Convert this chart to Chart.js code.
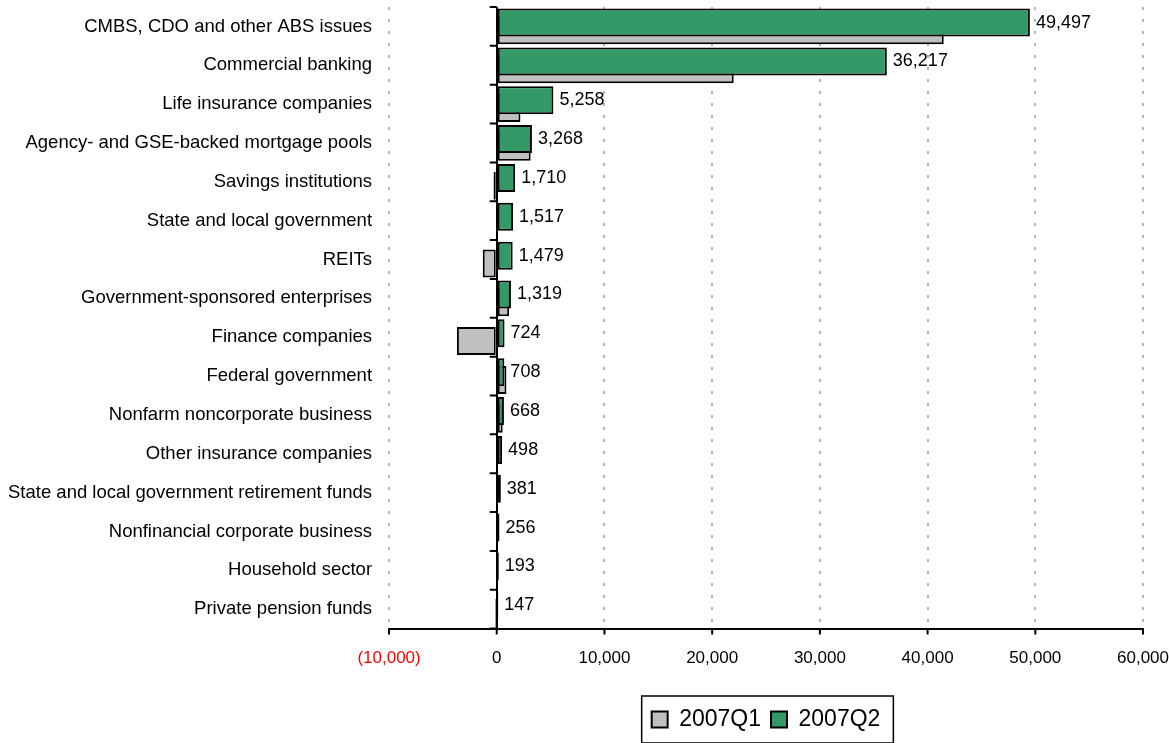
<!DOCTYPE html>
<html>
<head>
<meta charset="utf-8">
<script src="https://cdn.jsdelivr.net/npm/chart.js@4"></script>
<style>
  html, body { margin: 0; padding: 0; background: #fff; }
  #wrap { width: 1169px; height: 743px; position: relative; }
</style>
</head>
<body>
<div id="wrap"><canvas id="sectorChart"></canvas></div>
<script>
const categories = [
  "CMBS, CDO and other ABS issues",
  "Commercial banking",
  "Life insurance companies",
  "Agency- and GSE-backed mortgage pools",
  "Savings institutions",
  "State and local government",
  "REITs",
  "Government-sponsored enterprises",
  "Finance companies",
  "Federal government",
  "Nonfarm noncorporate business",
  "Other insurance companies",
  "State and local government retirement funds",
  "Nonfinancial corporate business",
  "Household sector",
  "Private pension funds",
];
const q1Values = [41500, 22000, 2200, 3150, -300, 0, -1300, 1150, -3700, 900, 550, 0, 0, 0, 0, -150];
const q2Values = [49497, 36217, 5258, 3268, 1710, 1517, 1479, 1319, 724, 708, 668, 498, 381, 256, 193, 147];
const xTicks = [-10000, 0, 10000, 20000, 30000, 40000, 50000, 60000];

const FONT = "Arial, 'Liberation Sans', sans-serif";

function fmt(v) {
  const s = Math.abs(v).toLocaleString("en-US");
  return v < 0 ? "(" + s + ")" : s;
}

// axis tick marks, value labels on the Q2 bars and the legend frame
const extras = {
  id: "extras",
  afterDatasetsDraw(chart) {
    const { ctx, scales: { x, y } } = chart;
    const x0 = x.getPixelForValue(0);
    ctx.save();
    ctx.strokeStyle = "#000";
    ctx.lineWidth = 2;
    ctx.beginPath();
    // short ticks on the zero line between categories
    for (let i = 0; i <= categories.length; i++) {
      const py = y.getPixelForValue(i - 0.5);
      ctx.moveTo(x0 - 7, py);
      ctx.lineTo(x0, py);
    }
    // ticks below the value axis
    xTicks.forEach((v) => {
      const px = x.getPixelForValue(v);
      ctx.moveTo(px, x.top);
      ctx.lineTo(px, x.top + 6);
    });
    ctx.stroke();

    const meta = chart.getDatasetMeta(0);
    ctx.fillStyle = "#000";
    ctx.font = "18px " + FONT;
    ctx.textAlign = "left";
    ctx.textBaseline = "middle";
    meta.data.forEach((bar, i) => {
      ctx.fillText(fmt(q2Values[i]), bar.x + 6, bar.y);
    });
    ctx.restore();
  },
  afterDraw(chart) {
    const boxes = chart.legend.legendHitBoxes;
    if (!boxes || !boxes.length) return;
    const first = boxes[0];
    const last = boxes[boxes.length - 1];
    const ctx = chart.ctx;
    ctx.save();
    ctx.strokeStyle = "#000";
    ctx.lineWidth = 1.5;
    ctx.strokeRect(first.left - 10, first.top - 12, last.left + last.width + 13 - (first.left - 10), first.height + 24);
    ctx.restore();
  },
};

const ctx = document.getElementById("sectorChart").getContext("2d");

const sectorChart = new Chart(ctx, {
  type: "bar",
  data: {
    labels: categories,
    datasets: [
      {
        label: "2007Q2",
        data: q2Values,
        backgroundColor: "#339966",
        borderColor: "#000",
        borderWidth: 2,
        borderSkipped: false,
      },
      {
        label: "2007Q1",
        data: q1Values,
        backgroundColor: "#c0c0c0",
        borderColor: "#000",
        borderWidth: 2,
        borderSkipped: false,
      },
    ],
  },
  options: {
    indexAxis: "y",
    responsive: true,
    maintainAspectRatio: false,
    animation: false,
    categoryPercentage: 0.4,
    barPercentage: 3.6,
    layout: { padding: { left: 8, right: 20, top: 7, bottom: 2 } },
    scales: {
      x: {
        min: -10000,
        max: 60000,
        afterBuildTicks: (scale) => {
          scale.ticks = xTicks.map((v) => ({ value: v }));
        },
        afterFit: (scale) => {
          scale.height += 29;
        },
        ticks: {
          padding: 0,
          font: { size: 17, family: FONT },
          color: (c) => (c.tick && c.tick.value < 0 ? "#ff0000" : "#000"),
          callback: (v) => fmt(v),
        },
        grid: {
          color: (c) => (c.tick && c.tick.value === 0 ? "#000" : "#b4b4b4"),
          lineWidth: 2,
          tickColor: "transparent",
          tickLength: 20,
        },
        border: {
          display: true,
          color: "#000",
          width: 2,
          dash: (c) => (c.tick && c.tick.value === 0 ? [] : [3, 9]),
        },
      },
      y: {
        afterFit: (scale) => {
          scale.paddingTop = 0;
          scale.paddingBottom = 0;
        },
        grid: {
          display: true,
          drawOnChartArea: false,
          color: "transparent",
          tickLength: 17,
        },
        border: { display: false },
        ticks: {
          padding: 0,
          font: { size: 18.5, family: FONT },
          color: "#000",
        },
      },
    },
    plugins: {
      legend: {
        position: "bottom",
        fullSize: false,
        labels: {
          boxWidth: 16,
          boxHeight: 16,
          padding: 10,
          color: "#000",
          font: { size: 23, family: FONT },
          sort: (a, b) => b.datasetIndex - a.datasetIndex,
        },
      },
      tooltip: { enabled: false },
    },
  },
  plugins: [extras],
});
</script>
</body>
</html>
